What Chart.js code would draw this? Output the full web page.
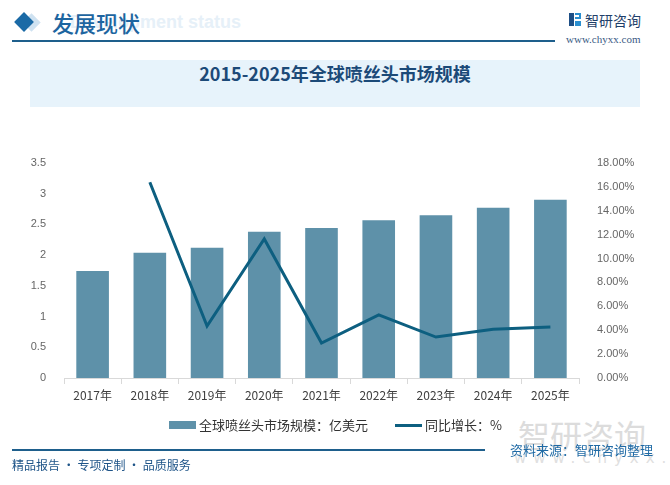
<!DOCTYPE html>
<html><head><meta charset="utf-8">
<script src="https://cdn.jsdelivr.net/npm/chart.js@4"></script>
<style>
body{margin:0;background:#fff;}
#wrap{position:relative;width:670px;height:485px;overflow:hidden;font-family:"Noto Sans CJK SC","Noto Sans",sans-serif;}
#wrap canvas{position:absolute;left:0;top:0;z-index:2;}
.abs{position:absolute;white-space:nowrap;}
</style></head>
<body>
<div id="wrap">
  <!-- header -->
  <div class="abs" style="left:70px;top:12px;font:bold 18px 'Liberation Sans',sans-serif;color:#e6f0f8;z-index:0;">Development status</div>
  <div class="abs" style="left:25px;top:16px;width:13px;height:13px;background:#cfe2f1;transform:rotate(45deg);z-index:0;"></div>
  <div class="abs" style="left:17px;top:15px;width:14px;height:14px;background:#1a6aa6;transform:rotate(45deg);z-index:1;"></div>
  <div class="abs" style="left:52px;top:6px;font:500 22px 'Noto Sans CJK SC';color:#1d65a0;z-index:1;">发展现状</div>
  <div class="abs" style="left:12px;top:40px;width:543px;height:2px;background:#1e5f8c;"></div>
  <div class="abs" style="left:569px;top:13px;width:5px;height:13px;background:#1e4f86;"></div>
  <div class="abs" style="left:575px;top:13px;width:6px;height:6px;border:2px solid #2a8fd0;border-left:none;box-sizing:border-box;"></div>
  <div class="abs" style="left:575px;top:21px;width:6px;height:5px;background:#2a8fd0;"></div>
  <div class="abs" style="left:585px;top:10px;font:14px 'Noto Sans CJK SC';color:#1f3f6a;">智研咨询</div>
  <div class="abs" style="left:566px;top:33px;font:11px 'Liberation Serif',serif;color:#3a5a84;">www.chyxx.com</div>
  <!-- title band -->
  <div class="abs" style="left:30px;top:60px;width:610px;height:47px;background:#e7f3fb;"></div>
  <div class="abs" style="left:30px;top:60px;width:610px;height:47px;line-height:47px;text-align:center;font:bold 18px 'Noto Sans CJK SC';color:#1c4a78;">2015-2025年全球喷丝头市场规模</div>
  <!-- legend -->
  <div class="abs" style="left:169px;top:421px;width:27px;height:8px;background:#5e91a9;z-index:3;"></div>
  <div class="abs" style="left:199px;top:416px;font:13px 'Noto Sans CJK SC';line-height:18px;color:#333;z-index:3;">全球喷丝头市场规模：亿美元</div>
  <div class="abs" style="left:395px;top:424px;width:27px;height:3px;background:#0d5f80;z-index:3;"></div>
  <div class="abs" style="left:425px;top:416px;font:13px 'Noto Sans CJK SC';line-height:18px;color:#333;z-index:3;">同比增长：%</div>
  <!-- watermark bottom right -->
  <div class="abs" style="left:518px;top:416px;font:32px 'Noto Sans CJK SC';line-height:36px;color:#dcdcdc;z-index:1;">智研咨询</div>
  <div class="abs" style="left:514px;top:449px;font:15px 'DejaVu Sans';letter-spacing:7px;color:#e0e0e0;z-index:1;">www.chyxx.com</div>
  <!-- footer -->
  <div class="abs" style="left:12px;top:449px;width:473px;height:2px;background:#1e5f8c;z-index:3;"></div>
  <div class="abs" style="left:510px;top:441px;font:13px 'Noto Sans CJK SC';line-height:18px;color:#1f6aa5;z-index:3;">资料来源：智研咨询整理</div>
  <div class="abs" style="left:12px;top:456px;font:12px 'Noto Sans CJK SC';line-height:18px;color:#1e5488;z-index:3;">精品报告 · 专项定制 · 品质服务</div>
  <canvas id="c" width="670" height="485"></canvas>
</div>
<script>
const categories = ['2017年','2018年','2019年','2020年','2021年','2022年','2023年','2024年','2025年'];
const marketSize = [1.74, 2.04, 2.12, 2.38, 2.44, 2.57, 2.65, 2.77, 2.90];
const growthRate = [null, 16.39, 4.35, 11.64, 2.93, 5.28, 3.43, 4.08, 4.27];
const sizeLabel = '全球喷丝头市场规模：亿美元';
const growthLabel = '同比增长：%';
const leftAxis = {min: 0, max: 3.5, step: 0.5};
const rightAxis = {min: 0, max: 18, step: 2};

new Chart(document.getElementById('c'), {
  type: 'bar',
  data: {
    labels: categories,
    datasets: [
      {type: 'line', label: growthLabel, data: growthRate, yAxisID: 'y1', order: 1,
       borderColor: '#0d5f80', borderWidth: 3, pointRadius: 0, tension: 0, fill: false,
       borderCapStyle: 'butt', borderJoinStyle: 'miter'},
      {type: 'bar', label: sizeLabel, data: marketSize, yAxisID: 'y', order: 2,
       backgroundColor: '#5e91a9', categoryPercentage: 1, barPercentage: 0.57}
    ]
  },
  options: {
    responsive: false, animation: false,
    layout: {padding: {top: 163, left: 0, right: 0, bottom: 0}},
    plugins: {legend: {display: false}, tooltip: {enabled: false}},
    scales: {
      x: {
        grid: {display: true, drawOnChartArea: false, drawTicks: true, tickLength: 6, color: '#d9d9d9', offset: true},
        border: {display: true, color: '#d9d9d9'},
        ticks: {color: '#404040', font: {size: 12, family: "'Noto Sans CJK SC'"}, padding: 4, maxRotation: 0},
        afterFit: s => { s.height = 107; }
      },
      y: {
        position: 'left', min: leftAxis.min, max: leftAxis.max,
        grid: {display: false}, border: {display: false},
        ticks: {stepSize: leftAxis.step, color: '#666', font: {size: 11, family: "'Liberation Sans'"}, padding: 10,
                callback: v => String(v)},
        afterFit: s => { s.width = 64; }
      },
      y1: {
        position: 'right', min: rightAxis.min, max: rightAxis.max,
        grid: {display: false}, border: {display: false},
        ticks: {stepSize: rightAxis.step, color: '#666', font: {size: 11, family: "'Liberation Sans'"}, padding: 10,
                callback: v => v.toFixed(2) + '%'},
        afterFit: s => { s.width = 91; }
      }
    }
  }
});
</script>
</body></html>
